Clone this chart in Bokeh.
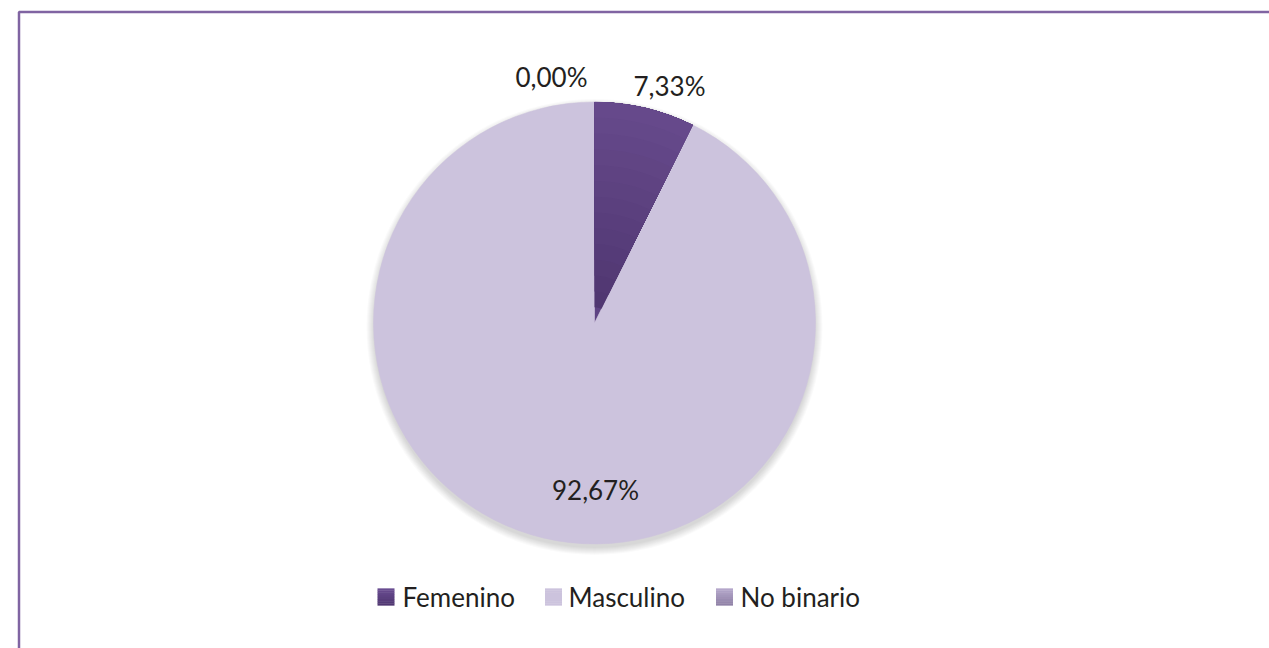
import math
from bokeh.plotting import figure
from bokeh.models import Range1d, ColumnDataSource
from bokeh.core.properties import value
from bokeh.embed import file_html
from bokeh.resources import INLINE

# ---- data ----
categories = ["Femenino", "Masculino", "No binario"]
shares = [7.33, 92.67, 0.00]
labels = ["7,33%", "92,67%", "0,00%"]
colors = ["#5E4383", "#CCC3DD", "#A294B8"]

# ---- layout (page pixel helpers) ----
W, H = 1269, 648
def X(px):
    return px
def Y(py):
    return H - py

FONT = value("Lato")
TXT = "#231F20"

def mix(c0, c1, t):
    return "#%02x%02x%02x" % tuple(int(round(a + (b - a) * t)) for a, b in zip(c0, c1))

p = figure(width=W, height=H, output_backend="svg", toolbar_location=None,
           x_range=Range1d(0, W), y_range=Range1d(0, H), min_border=0,
           outline_line_color=None, background_fill_color="white",
           border_fill_color="white")
p.axis.visible = False
p.grid.visible = False

# frame (cropped chart border)
p.line([X(18.5), X(18.5), X(1300)], [Y(700), Y(11.5), Y(11.5)],
       line_color="#8064A2", line_width=2.5)

cx, cy, R = X(594), Y(322.5), 221.0

# soft shadow
for k in range(1, 9):
    p.circle(x=[cx], y=[cy - 4], radius=R + k - 1, fill_color="black",
             fill_alpha=0.02, line_color=None)

# wedges
total = sum(shares)
starts, ends, cols, names = [], [], [], []
cum = 0.0
for c, s, col in zip(categories, shares, colors):
    a0 = math.pi / 2 - 2 * math.pi * cum / total
    cum += s
    a1 = math.pi / 2 - 2 * math.pi * cum / total
    if s > 0:
        starts.append(a0); ends.append(a1); cols.append(col); names.append(c)
src = ColumnDataSource(dict(start=starts, end=ends, color=cols, name=names))
p.wedge(x=cx, y=cy, radius=R, start_angle="start", end_angle="end",
        direction="clock", fill_color="color", line_color="color",
        line_width=0.5, source=src)

# gradient shading on the Femenino slice (dark at centre, lighter outward)
fa0, fa1 = starts[0], ends[0]
c0 = (0x4E, 0x35, 0x6F)
c1 = (0x68, 0x4B, 0x8D)
n = 14
for i in range(1, n):
    t = i / n
    p.annular_wedge(x=cx, y=cy, inner_radius=R * t, outer_radius=R,
                    start_angle=fa0, end_angle=fa1, direction="clock",
                    fill_color=mix(c0, c1, t), line_color=None)

# data labels
lab_x = [X(669), X(595), X(551)]
lab_y = [Y(85), Y(489), Y(76)]
p.text(x=lab_x, y=lab_y, text=labels, text_font=FONT, text_font_size="26px",
       text_color=TXT, text_align="center", text_baseline="middle")

# legend (manual)
sq_x = [X(385.5), X(553), X(724)]
txt_x = [X(402), X(568), X(740)]
ly = Y(596.5)
SQ = 17.0
grads = [((0x6A, 0x4D, 0x92), (0x4E, 0x35, 0x6F)),
         ((0xCC, 0xC3, 0xDD), (0xCC, 0xC3, 0xDD)),
         ((0xB6, 0xA9, 0xCC), (0x8E, 0x7F, 0xA5))]
nb = 8
for sx, (g0, g1) in zip(sq_x, grads):
    for j in range(nb):
        t = (j + 0.5) / nb
        yc = ly + SQ / 2 - SQ * (j + 0.5) / nb
        p.rect(x=sx, y=yc, width=SQ, height=SQ / nb + 0.3,
               fill_color=mix(g0, g1, t), line_color=None)
p.text(x=txt_x, y=[ly] * 3, text=categories, text_font=FONT, text_font_size="26px",
       text_color=TXT, text_align="left", text_baseline="middle")

open("out.html", "w").write(file_html(p, INLINE))
